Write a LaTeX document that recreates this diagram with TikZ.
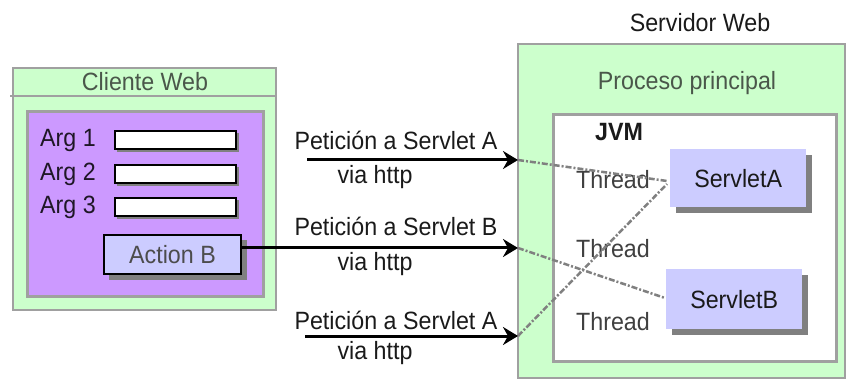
\documentclass[tikz,border=0pt]{standalone}
\usepackage{fontspec}
\setmainfont{Liberation Sans}[FakeStretch=0.93]
\usetikzlibrary{arrows.meta,calc}
\definecolor{paleGreen}{HTML}{CCFFCC}
\definecolor{formPurple}{HTML}{CC99FF}
\definecolor{paleBlue}{HTML}{CCCCFF}
\definecolor{frameGray}{HTML}{A0A0A0}
\definecolor{shadowGray}{HTML}{808080}
\definecolor{textDark}{HTML}{1A1A1A}
\definecolor{titleGreen}{HTML}{4A574A}
\newcommand{\labelfont}{\fontsize{25}{25}\selectfont}
\tikzset{
  lbl/.style={font=\labelfont, text=textDark, inner sep=0pt},
  panel/.style={draw=frameGray, line width=1.5pt, fill=paleGreen},
  field/.style={draw=black, line width=2.2pt, fill=white},
  fieldshadow/.style={fill=shadowGray},
  servlet/.style={fill=paleBlue, inner sep=0pt, font=\labelfont, text=textDark},
  request/.style={line width=3pt, -{Stealth[length=15pt,width=18pt,inset=5pt]}},
  dispatch/.style={draw=shadowGray, line width=2.5pt,
    dash pattern=on 6pt off 2pt on 2pt off 2pt}
}
\begin{document}
\begin{tikzpicture}[x=1pt,y=-1pt]
\useasboundingbox (0,0) rectangle (846,379);

% ---- Web client ----
\draw[panel] (13,68) rectangle (276,310);
\draw[frameGray, line width=1.5pt] (10,96) -- (276,96);
\node[lbl, text=titleGreen] (clienttitle) at (145,82) {Cliente Web};
\draw[fill=formPurple, draw=frameGray, line width=3pt] (27,112) rectangle (263,297);

% input fields with their shadows
\foreach \y/\n in {131/1,165/2,198/3}{
  \fill[fieldshadow] (117,\y+2) rectangle (239,\y+21);
  \draw[field] (115,\y) rectangle (236,\y+18);
  \node[lbl, text=black!85!formPurple, anchor=west] (arg\n) at (40,\y+9) {Arg \n};
}

% Action B button
\fill[shadowGray] (109,240) rectangle (247,280);
\node[draw=black, line width=2pt, fill=paleBlue, minimum width=137pt, minimum height=39pt,
      inner sep=0pt, font=\labelfont, text=black!70, anchor=north west]
      (actb) at (103,234) {Action B};

% ---- Web server ----
\node[lbl] (servertitle) at (700,23) {Servidor Web};
\draw[panel] (518,44) rectangle (845,378);
\node[lbl, text=titleGreen] (proc) at (687,83) {Proceso principal};
\draw[fill=white, draw=frameGray, line width=3pt] (553,115) rectangle (836,361);
\node[lbl, font=\labelfont\bfseries] (jvm) at (619,132) {JVM};

% thread labels
\node[lbl, text=black!75] (th1) at (613,180) {Thread};
\node[lbl, text=black!75] (th2) at (613,249) {Thread};
\node[lbl, text=black!75] (th3) at (613,322) {Thread};

% servlets with shadows
\fill[shadowGray] (676,155) rectangle (812,213);
\node[servlet, minimum width=136pt, minimum height=58pt, anchor=north west] (sa) at (670,149) {ServletA};
\fill[shadowGray] (672,275) rectangle (808,335);
\node[servlet, minimum width=136pt, minimum height=60pt, anchor=north west] (sb) at (666,269) {ServletB};

% ---- requests ----
\coordinate (s1) at (307,160);
\coordinate (t1) at (518,160);
\coordinate (t2) at (518,248);
\coordinate (s3) at (305,336);
\coordinate (t3) at (518,336);

\node[lbl] (req1) at (396,140) {Petición a Servlet A};
\node[lbl] (via1) at (375,177) {via http};
\node[lbl] (req2) at (396,226) {Petición a Servlet B};
\node[lbl] (via2) at (375,264) {via http};
\node[lbl] (req3) at (396,320) {Petición a Servlet A};
\node[lbl] (via3) at (375,353) {via http};

% dispatch of each request to its servlet
\coordinate (sa1) at (667,181);
\coordinate (sa3) at (667,184);
\coordinate (sb2) at (665,298);
\draw[dispatch] (t1) -- (sa1);
\draw[dispatch] (t2) -- (sb2);
\draw[dispatch] (t3) -- (sa3);

\draw[request] (s1) -- (t1);
\draw[request] (actb.east |- t2) -- (t2);
\draw[request] (s3) -- (t3);
\end{tikzpicture}
\end{document}
